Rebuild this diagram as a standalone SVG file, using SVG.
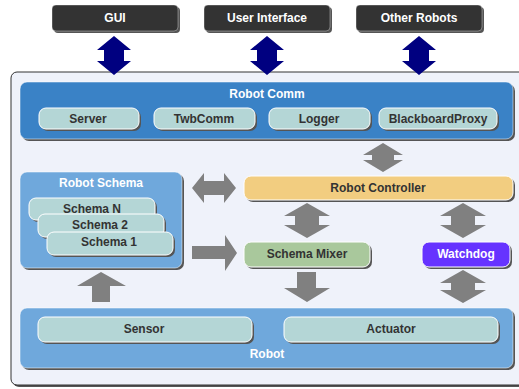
<svg xmlns="http://www.w3.org/2000/svg" width="519" height="389" viewBox="0 0 519 389">
  <style>
    text { font-family: "Liberation Sans", Arial, sans-serif; font-weight: bold; font-size: 12px; text-anchor: middle; }
    .shadow { fill: #555555; }
    .ext { fill: #333333; stroke: #ffffff; stroke-opacity: 0.35; stroke-width: 1; }
    .comm { fill: #3a82c6; stroke: #ffffff; stroke-opacity: 0.5; }
    .group { fill: #6fa8dc; stroke: #ffffff; stroke-opacity: 0.5; }
    .part { fill: #b4d6d6; stroke: #ffffff; stroke-width: 1; }
    .ctrl { fill: #f2cd80; stroke: #ffffff; }
    .mixer { fill: #a9c89c; stroke: #ffffff; }
    .dog { fill: #6633ff; stroke: #ffffff; }
    .light { fill: #ffffff; }
    .dark { fill: #333333; }
    .blue-arrow { fill: #000080; }
    .gray-arrow { fill: #808080; }
  </style>

  <!-- outer frame -->
  <g id="frame">
    <rect x="13" y="74" width="515" height="313" rx="6" class="shadow"/>
    <rect x="11" y="72" width="515" height="313" rx="6" fill="#eff2fa" stroke="#333333" stroke-width="1"/>
  </g>

  <!-- external endpoints -->
  <g id="gui">
    <rect x="54" y="7" width="126" height="26" rx="4" class="shadow"/>
    <rect x="52" y="5" width="126" height="26" rx="4" class="ext"/>
    <text x="115" y="22" class="light">GUI</text>
  </g>
  <g id="user-interface">
    <rect x="206" y="7" width="126" height="26" rx="4" class="shadow"/>
    <rect x="204" y="5" width="126" height="26" rx="4" class="ext"/>
    <text x="267" y="22" class="light">User Interface</text>
  </g>
  <g id="other-robots">
    <rect x="358" y="7" width="126" height="26" rx="4" class="shadow"/>
    <rect x="356" y="5" width="126" height="26" rx="4" class="ext"/>
    <text x="419" y="22" class="light">Other Robots</text>
  </g>

  <!-- communication layer -->
  <g id="robot-comm">
    <rect x="22" y="84" width="493" height="57" rx="7" class="shadow"/>
    <rect x="20" y="82" width="493" height="57" rx="7" class="comm"/>
    <text x="267" y="98" class="light">Robot Comm</text>
  </g>
  <g id="server">
    <rect x="41" y="110" width="100" height="21" rx="7" class="shadow"/>
    <rect x="39" y="108" width="100" height="21" rx="7" class="part"/>
    <text x="88" y="123" class="dark">Server</text>
  </g>
  <g id="twbcomm">
    <rect x="156" y="110" width="101" height="21" rx="7" class="shadow"/>
    <rect x="154" y="108" width="101" height="21" rx="7" class="part"/>
    <text x="204" y="123" class="dark">TwbComm</text>
  </g>
  <g id="logger">
    <rect x="271" y="110" width="101" height="21" rx="7" class="shadow"/>
    <rect x="269" y="108" width="101" height="21" rx="7" class="part"/>
    <text x="319" y="123" class="dark">Logger</text>
  </g>
  <g id="blackboard-proxy">
    <rect x="381" y="110" width="118" height="21" rx="7" class="shadow"/>
    <rect x="379" y="108" width="118" height="21" rx="7" class="part"/>
    <text x="438" y="123" class="dark">BlackboardProxy</text>
  </g>

  <!-- schema stack -->
  <g id="robot-schema">
    <rect x="22" y="174" width="162" height="96" rx="7" class="shadow"/>
    <rect x="20" y="172" width="162" height="96" rx="7" class="group"/>
    <text x="101" y="187" class="light">Robot Schema</text>
  </g>
  <g id="schema-n">
    <rect x="31" y="200" width="126" height="22" rx="7" class="shadow"/>
    <rect x="29" y="198" width="126" height="22" rx="7" class="part"/>
    <text x="92" y="213" class="dark">Schema N</text>
  </g>
  <g id="schema-2">
    <rect x="40" y="216" width="126" height="23" rx="7" class="shadow"/>
    <rect x="38" y="214" width="126" height="23" rx="7" class="part"/>
    <text x="100" y="229" class="dark">Schema 2</text>
  </g>
  <g id="schema-1">
    <rect x="49" y="234" width="126" height="23" rx="7" class="shadow"/>
    <rect x="47" y="232" width="126" height="23" rx="7" class="part"/>
    <text x="109" y="246" class="dark">Schema 1</text>
  </g>

  <!-- control -->
  <g id="robot-controller">
    <rect x="246" y="178" width="269" height="24" rx="7" class="shadow"/>
    <rect x="244" y="176" width="269" height="24" rx="7" class="ctrl"/>
    <text x="378" y="192" class="dark">Robot Controller</text>
  </g>
  <g id="schema-mixer">
    <rect x="246" y="244" width="126" height="25" rx="7" class="shadow"/>
    <rect x="244" y="242" width="126" height="25" rx="7" class="mixer"/>
    <text x="307" y="258" class="dark">Schema Mixer</text>
  </g>
  <g id="watchdog">
    <rect x="424" y="244" width="88" height="25" rx="7" class="shadow"/>
    <rect x="422" y="242" width="88" height="25" rx="7" class="dog"/>
    <text x="466" y="258" class="light">Watchdog</text>
  </g>

  <!-- hardware layer -->
  <g id="robot">
    <rect x="22" y="310" width="493" height="60" rx="7" class="shadow"/>
    <rect x="20" y="308" width="493" height="60" rx="7" class="group"/>
    <text x="267" y="358" class="light">Robot</text>
  </g>
  <g id="sensor">
    <rect x="40" y="319" width="214" height="25" rx="7" class="shadow"/>
    <rect x="38" y="317" width="214" height="25" rx="7" class="part"/>
    <text x="144" y="333" class="dark">Sensor</text>
  </g>
  <g id="actuator">
    <rect x="286" y="319" width="214" height="25" rx="7" class="shadow"/>
    <rect x="284" y="317" width="214" height="25" rx="7" class="part"/>
    <text x="391" y="333" class="dark">Actuator</text>
  </g>

  <!-- connectors -->
  <g id="connectors">
    <!-- external links -->
    <polygon class="blue-arrow" points="114,36 131,50 124,50 124,61 131,61 114,75 97,61 104,61 104,50 97,50"/>
    <polygon class="blue-arrow" points="267,36 284,50 277,50 277,61 284,61 267,75 250,61 257,61 257,50 250,50"/>
    <polygon class="blue-arrow" points="419,36 436,50 429,50 429,61 436,61 419,75 402,61 409,61 409,50 402,50"/>
    <!-- comm <-> controller -->
    <polygon class="gray-arrow" points="383,143 403,155 394,155 394,160 403,160 383,172 363,160 372,160 372,155 363,155"/>
    <!-- schema <-> controller -->
    <polygon class="gray-arrow" points="192,188 204,173 204,181 224,181 224,173 236,188 224,203 224,195 204,195 204,203"/>
    <!-- schema -> mixer -->
    <polygon class="gray-arrow" points="192,246 225,246 225,235 237,253 225,271 225,259 192,259"/>
    <!-- controller <-> mixer -->
    <polygon class="gray-arrow" points="307,203 330,216 319,216 319,225 330,225 307,238 284,225 295,225 295,216 284,216"/>
    <!-- controller <-> watchdog -->
    <polygon class="gray-arrow" points="463,203 486,216 475,216 475,225 486,225 463,238 440,225 451,225 451,216 440,216"/>
    <!-- mixer -> robot -->
    <polygon class="gray-arrow" points="297,272 316,272 316,288 330,288 307,302 284,288 297,288"/>
    <!-- watchdog <-> robot -->
    <polygon class="gray-arrow" points="463,270 486,283 475,283 475,290 486,290 463,303 440,290 451,290 451,283 440,283"/>
    <!-- robot -> schema -->
    <polygon class="gray-arrow" points="101,272 126,286 110,286 110,302 92,302 92,286 77,286"/>
  </g>
</svg>
